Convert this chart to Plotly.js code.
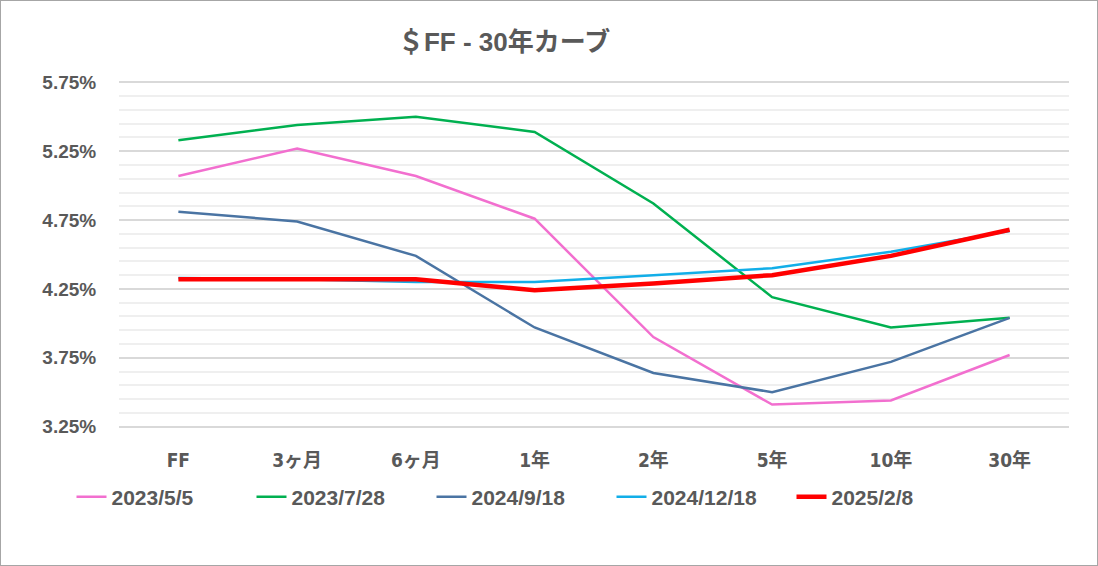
<!DOCTYPE html>
<html>
<head>
<meta charset="utf-8">
<script src="https://cdn.plot.ly/plotly-3.0.1.min.js"></script>
<style>
  html, body { margin: 0; padding: 0; background: #fff; }
  #plot { width: 1098px; height: 566px; box-sizing: border-box; border: 1px solid #a6a6a6; }
</style>
</head>
<body>
<div id="plot"></div>
<script>
// Tenors on the curve
var tenors = ["FF", "3ヶ月", "6ヶ月", "1年", "2年", "5年", "10年", "30年"];

// Yields (%) for each date
var y20230505 = [5.07, 5.27, 5.07, 4.76, 3.90, 3.41, 3.44, 3.77];
var y20230728 = [5.33, 5.44, 5.50, 5.39, 4.87, 4.19, 3.97, 4.04];
var y20240918 = [4.81, 4.74, 4.49, 3.97, 3.64, 3.50, 3.72, 4.04];
var y20241218 = [4.33, 4.32, 4.30, 4.30, 4.35, 4.40, 4.52, 4.67];
var y20250208 = [4.32, 4.32, 4.32, 4.24, 4.29, 4.35, 4.49, 4.68];

var seriesNames = ["2023/5/5", "2023/7/28", "2024/9/18", "2024/12/18", "2025/2/8"];

var grey = "#595959";
var fontFam = "'Liberation Sans', 'Noto Sans CJK JP', sans-serif";
var narrowFam = "'Liberation Sans Narrow', 'DejaVu Sans Condensed', 'Noto Sans CJK JP', sans-serif";

function makeTrace(vals, name, color, width) {
  return {
    x: tenors,
    y: vals,
    mode: "lines",
    type: "scatter",
    name: name,
    line: { color: color, width: width },
    hoverinfo: "skip"
  };
}

var data = [
  makeTrace(y20230505, seriesNames[0], "#f26fcf", 2.5),
  makeTrace(y20230728, seriesNames[1], "#00b050", 2.5),
  makeTrace(y20240918, seriesNames[2], "#4a74a3", 2.5),
  makeTrace(y20241218, seriesNames[3], "#12aee8", 2.5),
  makeTrace(y20250208, seriesNames[4], "#ff0000", 4.5)
];

var layout = {
  width: 1096,
  height: 564,
  paper_bgcolor: "#ffffff",
  plot_bgcolor: "#ffffff",
  margin: { l: 118, r: 28, t: 80, b: 137 },
  font: { family: fontFam, color: grey, size: 16, weight: "bold" },
  title: {
    text: "＄FF - 30年カーブ",
    font: { family: fontFam, size: 26, color: grey, weight: "bold" },
    xref: "container",
    x: 0.459,
    xanchor: "center",
    y: 0.928,
    yanchor: "middle"
  },
  xaxis: {
    type: "category",
    range: [-0.5, 7.5],
    showgrid: false,
    showline: false,
    zeroline: false,
    ticks: "outside",
    ticklen: 15,
    tickcolor: "rgba(0,0,0,0)",
    tickfont: { family: narrowFam, size: 19, color: grey, weight: "bold" }
  },
  yaxis: {
    range: [3.24, 5.76],
    tick0: 3.25,
    dtick: 0.5,
    tickformat: ".2f",
    ticksuffix: "%",
    showline: false,
    zeroline: false,
    gridcolor: "#d9d9d9",
    gridwidth: 2,
    ticks: "outside",
    ticklen: 18,
    tickcolor: "rgba(0,0,0,0)",
    tickfont: { size: 19, color: grey, weight: "bold" },
    minor: {
      tick0: 3.25,
      dtick: 0.1,
      showgrid: true,
      gridcolor: "#efefef",
      gridwidth: 2
    }
  },
  showlegend: true,
  legend: {
    orientation: "h",
    x: -0.05,
    xanchor: "left",
    y: -0.14,
    yanchor: "top",
    font: { size: 21, color: grey, weight: "bold" },
    entrywidth: 135,
    entrywidthmode: "pixels",
    traceorder: "normal"
  }
};

Plotly.newPlot("plot", data, layout, { displayModeBar: false, staticPlot: true });
</script>
</body>
</html>
